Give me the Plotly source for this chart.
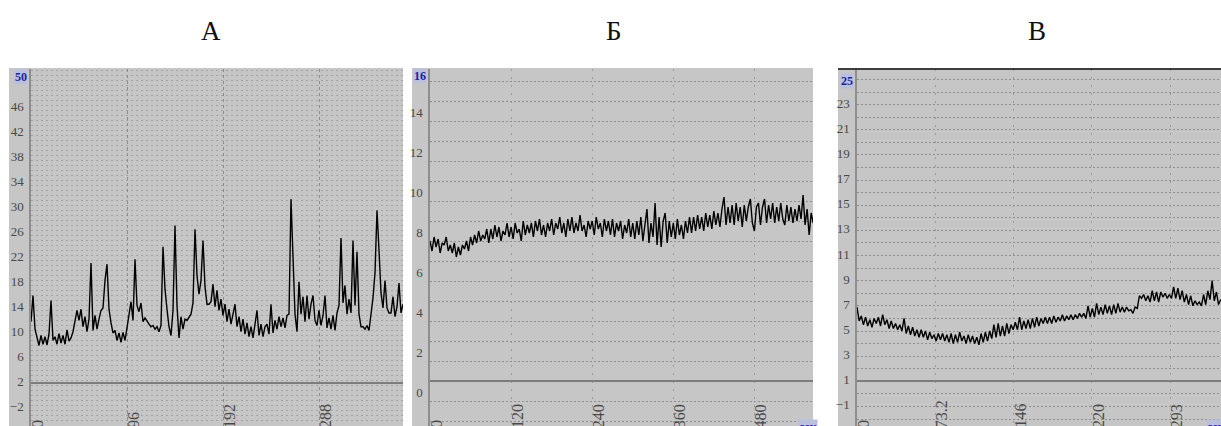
import plotly.graph_objects as go

W, H = 1221, 426

# ---------------- data ----------------
# Panel А: one reading every 2 s
a_step = 2
a_values = [
    9.8, 14.0, 8.6, 7.4, 6.0, 7.6, 6.2, 7.4, 6.1, 7.8,
    13.2, 6.8, 7.4, 6.2, 7.9, 6.4, 7.6, 6.2, 8.5, 6.7,
    7.2, 8.2, 9.9, 11.6, 10.0, 11.8, 9.0, 10.6, 8.2, 10.2,
    19.2, 8.4, 10.8, 8.6, 10.2, 11.6, 12.0, 16.4, 19.0, 11.8,
    9.6, 8.0, 8.4, 6.8, 8.0, 6.5, 8.1, 6.8, 8.8, 11.0,
    13.0, 10.0, 19.8, 12.4, 11.4, 12.8, 9.8, 10.4, 9.8, 9.4,
    9.0, 9.2, 8.6, 9.0, 8.2, 9.2, 21.8, 15.0, 11.8, 9.0,
    7.6, 11.6, 25.2, 12.4, 7.2, 10.6, 8.6, 10.2, 10.0, 10.6,
    11.0, 12.8, 24.6, 17.2, 14.2, 16.4, 22.8, 15.4, 12.6, 12.6,
    13.0, 15.8, 12.2, 14.8, 11.6, 13.4, 10.8, 12.6, 9.8, 11.8,
    9.4, 11.0, 12.6, 9.0, 10.6, 8.2, 10.2, 7.8, 9.6, 7.4,
    9.0, 7.2, 9.2, 11.6, 7.6, 9.4, 7.4, 9.0, 9.4, 7.8,
    12.6, 8.0, 10.0, 8.6, 10.6, 9.0, 10.4, 8.8, 10.8, 11.0,
    29.4, 19.0, 11.0, 8.2, 16.2, 11.0, 13.8, 9.8, 14.0, 10.2,
    12.6, 14.0, 10.0, 9.2, 11.6, 9.2, 10.8, 14.0, 8.8, 10.4,
    8.6, 10.8, 8.4, 11.2, 12.4, 23.2, 12.8, 15.6, 11.0, 13.4,
    11.2, 22.8, 12.4, 21.0, 11.0, 9.0, 9.0, 8.6, 9.2, 8.4,
    10.8, 13.6, 17.6, 27.6, 21.2, 14.4, 12.0, 16.4, 12.0, 11.2,
    11.2, 13.8, 10.6, 12.2, 16.0, 11.2, 12.6,
]

# Panel Б: one reading every 3 s
b_step = 3
b_values = [
    7.0, 6.5, 7.2, 6.7, 7.1, 6.4, 6.9, 6.8, 7.2, 6.5,
    6.8, 6.4, 6.9, 6.2, 6.7, 6.3, 6.8, 6.6, 7.0, 6.5,
    7.2, 6.8, 7.3, 6.9, 7.5, 7.0, 7.3, 7.1, 7.6, 6.9,
    7.6, 7.1, 7.8, 7.2, 7.7, 7.0, 7.5, 7.3, 7.9, 7.2,
    7.7, 7.1, 7.9, 7.4, 7.6, 7.0, 8.0, 7.3, 7.8, 7.4,
    7.9, 7.2, 8.0, 7.5, 8.1, 7.3, 7.8, 7.2, 7.9, 7.5,
    8.1, 7.3, 7.9, 7.6, 8.2, 7.4, 7.9, 7.2, 8.1, 7.5,
    8.2, 7.4, 7.9, 7.5, 8.3, 7.5, 7.8, 7.2, 8.0, 7.6,
    8.0, 7.3, 8.2, 7.6, 7.9, 7.2, 8.1, 7.5, 8.0, 7.3,
    8.1, 7.2, 7.9, 7.5, 8.0, 7.1, 7.8, 7.4, 8.1, 7.2,
    7.9, 7.1, 8.0, 7.3, 8.2, 7.0, 7.8, 8.6, 6.9, 7.9,
    7.2, 8.9, 6.8, 8.2, 6.7, 8.0, 8.4, 6.9, 8.0, 7.2,
    7.9, 7.1, 8.1, 7.3, 7.8, 7.1, 8.0, 7.4, 8.2, 7.4,
    8.2, 7.5, 8.3, 7.6, 8.2, 7.5, 8.4, 7.7, 8.3, 7.6,
    8.5, 7.8, 8.4, 7.7, 8.6, 9.2, 7.8, 8.7, 7.9, 8.8,
    7.8, 8.9, 8.0, 8.7, 7.7, 8.8, 8.0, 8.7, 9.1, 7.9,
    7.5, 8.7, 8.9, 7.8, 8.7, 9.1, 7.9, 8.8, 8.1, 8.9,
    7.9, 8.7, 8.0, 8.9, 8.1, 7.8, 8.8, 8.0, 8.7, 7.9,
    8.6, 8.0, 8.8, 8.1, 9.3, 7.8, 8.6, 7.3, 8.4, 7.9,
]

# Panel В: one reading every 2 s
c_step = 2
c_values = [
    5.9, 4.8, 5.2, 4.5, 5.1, 4.4, 4.9, 4.3, 5.0, 4.6,
    5.1, 4.4, 5.3, 4.5, 4.9, 4.2, 4.8, 4.2, 4.6, 4.1,
    4.5, 4.0, 5.0, 3.8, 4.4, 3.7, 4.3, 3.6, 4.1, 3.5,
    4.1, 3.5, 4.0, 3.3, 3.9, 3.4, 3.7, 3.2, 3.8, 3.3,
    3.8, 3.2, 3.7, 3.1, 3.8, 3.0, 3.7, 3.1, 3.9, 3.2,
    3.6, 3.0, 3.7, 3.1, 3.6, 3.0, 3.5, 2.9, 3.8, 3.1,
    3.9, 3.2, 4.0, 3.4, 4.5, 3.5, 4.6, 3.6, 4.4, 3.6,
    4.6, 3.8, 4.5, 4.1, 4.7, 4.1, 5.1, 4.1, 4.8, 4.2,
    4.9, 4.2, 5.0, 4.3, 5.1, 4.4, 5.0, 4.6, 5.1, 4.6,
    5.1, 4.6, 5.2, 4.7, 5.1, 4.8, 5.3, 4.8, 5.2, 4.9,
    5.3, 4.9, 5.3, 5.0, 5.4, 5.1, 5.4, 5.0, 6.0, 5.1,
    5.8, 5.1, 6.2, 5.3, 5.9, 5.3, 6.1, 5.4, 6.0, 5.3,
    6.1, 5.4, 6.2, 5.5, 5.9, 5.5, 5.9, 5.6, 5.7, 5.4,
    5.9, 5.8, 6.8, 6.6, 6.9, 6.4, 6.8, 6.3, 7.2, 6.4,
    7.1, 6.3, 7.1, 6.7, 7.0, 6.6, 6.9, 6.6, 7.5, 6.6,
    7.4, 6.5, 7.2, 6.3, 6.9, 6.1, 6.8, 6.0, 6.4, 6.1,
    6.3, 6.0, 6.9, 6.1, 7.2, 6.5, 8.0, 6.4, 7.1, 6.1,
    6.5,
]

titles = ["А", "Б", "В"]

a_xticks = [0, 96, 192, 288]
a_xtext = ["0", "96", "192", "288"]
a_yticks = [-6, -2, 2, 6, 10, 14, 18, 22, 26, 30, 34, 38, 42, 46]
a_ytop = "50"

b_xticks = [0, 120, 240, 360, 480]
b_xtext = ["0", "120", "240", "360", "480"]
b_yticks = [-2, 0, 2, 4, 6, 8, 10, 12, 14]
b_ytop = "16"

c_xticks = [0, 73.2, 146.4, 219.6, 292.8]
c_xtext = ["0", "73.2", "146", "220", "293"]
c_yticks = [-3, -1, 1, 3, 5, 7, 9, 11, 13, 15, 17, 19, 21, 23]
c_ytop = "25"

unit_label = "сек"

# ---------------- styling / geometry ----------------
BG = "#c6c6c6"
LABEL_COLOR = "#484848"
TOP_LABEL_COLOR = "#1e1ea0"
SERIF = "Liberation Serif"

TOP_PX = 69  # top edge of the grey chart windows


def fx(p):
    return p / W


def fy(p):
    return (H - p) / H


ydom = [0, fy(TOP_PX)]

panels = [
    dict(values=a_values, step=a_step, xticks=a_xticks, xtext=a_xtext,
         yticks=a_yticks, ytop=a_ytop, plot_x=(31, 403), win_x=(9, 403),
         xrange=[0, 372], yrange=[-6.876, 50.21], ytop_py=77,
         hdot=dict(tick0=2, dtick=0.8, color="#a3a3a3", dash="2px,3px"),
         vgrid=dict(color="#8c8c8c", dash="3px,3px"),
         title_x=211, unit=False, border=False),
    dict(values=b_values, step=b_step, xticks=b_xticks, xtext=b_xtext,
         yticks=b_yticks, ytop=b_ytop, plot_x=(430, 813), win_x=(412, 813),
         xrange=[0, 566.7], yrange=[-2.25, 15.6], ytop_py=76,
         hdot=dict(tick0=0, dtick=1, color="#8e8e8e", dash="2px,2px"),
         vgrid=dict(color="#9c9c9c", dash="2px,6px"),
         title_x=614, unit=True, border=False),
    dict(values=c_values, step=c_step, xticks=c_xticks, xtext=c_xtext,
         yticks=c_yticks, ytop=c_ytop, plot_x=(857, 1221), win_x=(838, 1221),
         xrange=[0, 340.3], yrange=[-3.553, 24.83], ytop_py=81,
         hdot=dict(tick0=1, dtick=1, color="#8e8e8e", dash="2px,2px"),
         vgrid=dict(color="#9c9c9c", dash="2px,6px"),
         title_x=1037, unit=True, border=True),
]

fig = go.Figure()
shapes = []
annotations = []
layout_axes = {}

for i, p in enumerate(panels, start=1):
    xa = "x" if i == 1 else f"x{i}"
    ya = "y" if i == 1 else f"y{i}"
    xkey = "xaxis" if i == 1 else f"xaxis{i}"
    ykey = "yaxis" if i == 1 else f"yaxis{i}"

    xs = [k * p["step"] for k in range(len(p["values"]))]
    fig.add_trace(go.Scatter(
        x=xs, y=p["values"], mode="lines", xaxis=xa, yaxis=ya,
        line=dict(color="#000000", width=1.4), showlegend=False,
        hoverinfo="skip",
    ))

    layout_axes[xkey] = dict(
        domain=[fx(p["plot_x"][0]), fx(p["plot_x"][1])],
        range=p["xrange"], anchor=ya,
        tickmode="array", tickvals=p["xticks"], showticklabels=False,
        ticks="", showgrid=True, gridcolor=p["vgrid"]["color"],
        griddash=p["vgrid"]["dash"], gridwidth=1,
        zeroline=False, showline=False, fixedrange=True,
    )
    layout_axes[ykey] = dict(
        domain=ydom, range=p["yrange"], anchor=xa,
        tickmode="array", tickvals=p["yticks"],
        ticktext=[str(v).replace("-", "−") for v in p["yticks"]],
        ticks="", ticklabelshift=11, ticklabelstandoff=3,
        tickfont=dict(family=SERIF, size=13, color=LABEL_COLOR),
        showgrid=True, gridcolor=p["hdot"]["color"],
        griddash=p["hdot"]["dash"], gridwidth=1,
        minor=dict(tick0=p["hdot"]["tick0"], dtick=p["hdot"]["dtick"],
                   showgrid=True, gridcolor=p["hdot"]["color"],
                   griddash=p["hdot"]["dash"], gridwidth=1, ticks=""),
        zeroline=True, zerolinecolor="#7c7c7c", zerolinewidth=1.6,
        showline=True, linecolor="#8e8e8e", linewidth=1.5,
        fixedrange=True,
    )

    # grey chart window (includes the tick-label strip)
    shapes.append(dict(
        type="rect", xref="paper", yref="paper", layer="below",
        x0=fx(p["win_x"][0]), x1=fx(p["win_x"][1]),
        y0=0, y1=fy(TOP_PX - 1), fillcolor=BG, line=dict(width=0),
    ))
    if p["border"]:
        shapes.append(dict(
            type="line", xref="paper", yref="paper",
            x0=fx(p["win_x"][0]), x1=fx(p["win_x"][1]),
            y0=fy(TOP_PX), y1=fy(TOP_PX),
            line=dict(color="#111111", width=1.5),
        ))

    # rotated x tick labels, partly cut by the window's lower edge
    for v, t in zip(p["xticks"], p["xtext"]):
        annotations.append(dict(
            x=v, xref=xa, y=fy(430), yref="paper", text=t,
            textangle=-90, showarrow=False, xanchor="center",
            yanchor="bottom", xshift=7,
            font=dict(family=SERIF, size=16, color=LABEL_COLOR),
        ))

    # highlighted full-scale value at the top of the y axis
    annotations.append(dict(
        x=fx(p["plot_x"][0] - 3), xref="paper", y=fy(p["ytop_py"]),
        yref="paper", text=f"<b>{p['ytop']}</b>", showarrow=False,
        xanchor="right", yanchor="middle", bgcolor="#b9bfdc",
        borderpad=0,
        font=dict(family=SERIF, size=12, color=TOP_LABEL_COLOR),
    ))

    if p["unit"]:
        annotations.append(dict(
            x=fx(p["plot_x"][1] - 15), xref="paper", y=fy(419),
            yref="paper", text=f"<b>{unit_label}</b>", showarrow=False,
            xanchor="left", yanchor="top", bgcolor="#b9bfdc", borderpad=0,
            font=dict(family=SERIF, size=12, color=TOP_LABEL_COLOR),
        ))

    # panel letter
    annotations.append(dict(
        x=fx(p["title_x"]), xref="paper", y=fy(31), yref="paper",
        text=titles[i - 1], showarrow=False, xanchor="center",
        yanchor="middle",
        font=dict(family=SERIF, size=27, color="#111111"),
    ))

fig.update_layout(
    width=W, height=H, margin=dict(l=0, r=0, t=0, b=0),
    paper_bgcolor="#ffffff", plot_bgcolor=BG,
    shapes=shapes, annotations=annotations, **layout_axes,
)

fig.write_html("out.html", config={"displayModeBar": False})
